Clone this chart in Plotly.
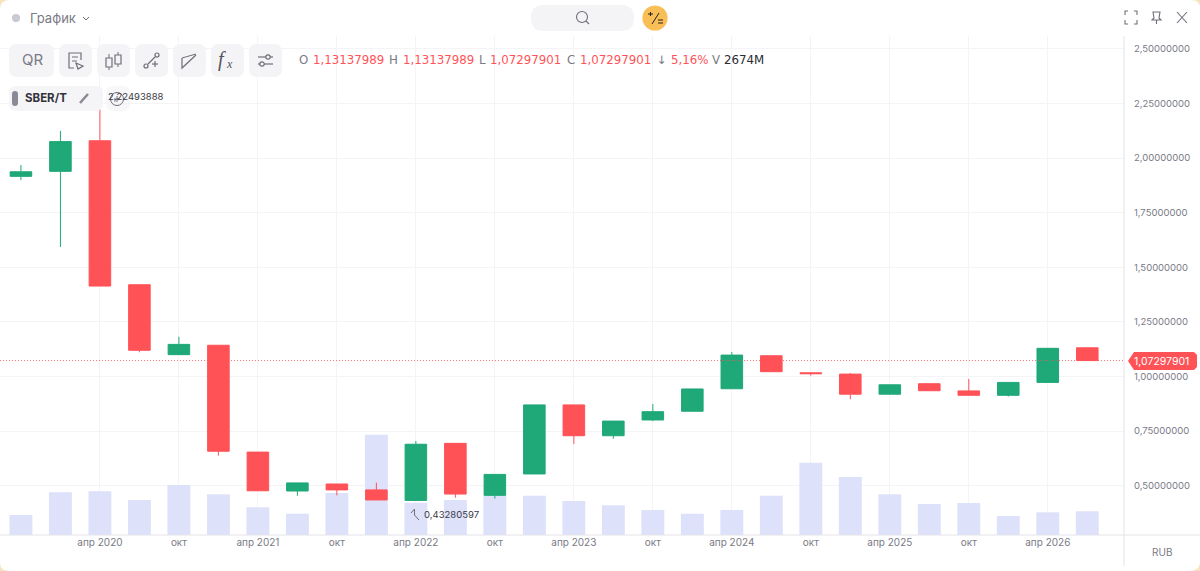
import plotly.graph_objects as go

# 1200x571 px, все элементы интерфейса задаем в пикселях экрана
W, H = 1200, 571
PLOT_L, PLOT_R, PLOT_T, PLOT_B = 0, 1124, 36, 535

months = ['2019-10', '2020-01', '2020-04', '2020-07', '2020-10', '2021-01', '2021-04',
          '2021-07', '2021-10', '2022-01', '2022-04', '2022-07', '2022-10', '2023-01',
          '2023-04', '2023-07', '2023-10', '2024-01', '2024-04', '2024-07', '2024-10',
          '2025-01', '2025-04', '2025-07', '2025-10', '2026-01', '2026-04', '2026-07']
opens = [1.916, 1.939, 2.079, 1.420, 1.100, 1.143, 0.654, 0.476, 0.508, 0.481, 0.43280597, 0.694, 0.456, 0.554,
         0.870, 0.729, 0.801, 0.841, 0.944, 1.095, 1.017, 1.011, 0.919, 0.967, 0.934, 0.914, 0.973, 1.13137989]
highs = [1.968, 2.124, 2.22493888, 1.420, 1.182, 1.143, 0.654, 0.513, 0.508, 0.514, 0.705, 0.694, 0.552, 0.870,
         0.870, 0.796, 0.874, 0.943, 1.112, 1.095, 1.017, 1.016, 0.962, 0.967, 0.989, 0.973, 1.129, 1.13137989]
lows = [1.899, 1.593, 1.414, 1.111, 1.100, 0.638, 0.477, 0.454, 0.456, 0.435, 0.43280597, 0.445, 0.441, 0.554,
        0.691, 0.715, 0.796, 0.841, 0.944, 1.022, 1.004, 0.896, 0.919, 0.935, 0.914, 0.908, 0.973, 1.07297901]
closes = [1.937, 2.075, 1.414, 1.120, 1.147, 0.658, 0.477, 0.513, 0.481, 0.435, 0.690, 0.462, 0.552, 0.870,
          0.729, 0.796, 0.839, 0.943, 1.098, 1.022, 1.013, 0.919, 0.962, 0.935, 0.914, 0.973, 1.129, 1.07297901]
volumes = [2256, 4817, 4929, 3948, 5640, 4591, 3125, 2403, 4738, 11314, 3643, 3948, 4399, 4433,
           3835, 3350, 2820, 2403, 2820, 4433, 8155, 6542, 4591, 3497, 3610, 2143, 2561, 2674]

tick_months = ['2020-04', '2020-10', '2021-04', '2021-10', '2022-04', '2022-10', '2023-04',
               '2023-10', '2024-04', '2024-10', '2025-04', '2025-10', '2026-04']
tick_labels = ['апр 2020', 'окт', 'апр 2021', 'окт', 'апр 2022', 'окт', 'апр 2023',
               'окт', 'апр 2024', 'окт', 'апр 2025', 'окт', 'апр 2026']
price_ticks = [0.5, 0.75, 1.0, 1.25, 1.5, 1.75, 2.0, 2.25, 2.5]

GREEN = '#1FA878'
RED = '#FF5257'
VOL = '#DDE1FA'
GRID = '#F4F4F7'
TEXT = '#7A7A85'
BTN = '#F4F4F7'
ICON = '#6E6E78'
CORNER = '#F6E3C0'
FONT = 'Inter'
WIDE_FONT = 'DejaVu Sans'


def X(p):
    return p / W


def Y(p):
    return 1 - p / H


def rrect(x0, y0, x1, y1, r):
    return (f'M{X(x0 + r)},{Y(y0)} L{X(x1 - r)},{Y(y0)} Q{X(x1)},{Y(y0)} {X(x1)},{Y(y0 + r)} '
            f'L{X(x1)},{Y(y1 - r)} Q{X(x1)},{Y(y1)} {X(x1 - r)},{Y(y1)} L{X(x0 + r)},{Y(y1)} '
            f'Q{X(x0)},{Y(y1)} {X(x0)},{Y(y1 - r)} L{X(x0)},{Y(y0 + r)} Q{X(x0)},{Y(y0)} {X(x0 + r)},{Y(y0)} Z')


def poly(pts, close=False):
    s = 'M' + ' L'.join(f'{X(a)},{Y(b)}' for a, b in pts)
    return s + (' Z' if close else '')


shapes = []
annotations = []


def fill(path, color, layer='above'):
    shapes.append(dict(type='path', xref='paper', yref='paper', path=path, fillcolor=color,
                       line=dict(width=0), layer=layer))


def stroke(pts, color=ICON, width=1.2, close=False):
    shapes.append(dict(type='path', xref='paper', yref='paper', path=poly(pts, close),
                       line=dict(color=color, width=width), layer='above'))


def circle(cx, cy, r, color=ICON, width=1.2, fillc=None):
    shapes.append(dict(type='circle', xref='paper', yref='paper', x0=X(cx - r), x1=X(cx + r),
                       y0=Y(cy + r), y1=Y(cy - r), line=dict(color=color, width=width),
                       fillcolor=fillc or 'rgba(0,0,0,0)', layer='above'))


def label(x, y, text, size=10, color=TEXT, anchor='left', family=FONT):
    annotations.append(dict(xref='paper', yref='paper', x=X(x), y=Y(y), text=text, showarrow=False,
                            xanchor=anchor, yanchor='middle', align=anchor, borderpad=0, borderwidth=0,
                            font=dict(size=size, color=color, family=family)))


def corner(x0, y0, cx, cy, x1, y1):
    fill(f'M{X(x0)},{Y(y0)} Q{X(cx)},{Y(cy)} {X(x1)},{Y(y1)} L{X(cx)},{Y(cy)} Z', CORNER)


fig = go.Figure()
fig.add_trace(go.Bar(x=months, y=volumes, marker=dict(color=VOL, line=dict(width=0)), yaxis='y', hoverinfo='skip'))
fig.add_trace(go.Candlestick(
    x=months, open=opens, high=highs, low=lows, close=closes, yaxis='y2', whiskerwidth=0,
    increasing=dict(line=dict(color=GREEN, width=1), fillcolor=GREEN),
    decreasing=dict(line=dict(color=RED, width=1), fillcolor=RED),
))

# линия последней цены
last_close = closes[-1]
shapes.append(dict(type='line', xref='paper', yref='y2', x0=X(PLOT_L), x1=X(PLOT_R), y0=last_close, y1=last_close,
                   line=dict(color=RED, width=1, dash='1px,2px'), layer='above', opacity=0.8))

# рамки шкал
stroke([(0, PLOT_B), (W, PLOT_B)], color='#E4E4EA', width=1)
stroke([(PLOT_R, PLOT_T), (PLOT_R, 566)], color='#E4E4EA', width=1)

# скругленные углы окна
corner(0, 9, 0, 0, 10, 0)
corner(1191, 0, 1200, 0, 1200, 8)
corner(1200, 562, 1200, 571, 1188, 571)
corner(10, 571, 0, 571, 0, 563)

# ярлык цены
fill(poly([(1128, 361), (1134, 352), (1194, 352), (1197, 355), (1197, 367), (1194, 370), (1134, 370)], True), RED)
label(1134, 361, '1,07297901', size=10.5, color='#FFFFFF')
label(1162, 552, 'RUB', size=10, anchor='center')

# верхняя панель
circle(16, 18, 3.5, color='#C9CAD2', fillc='#C9CAD2')
label(30, 18, 'График', size=13)
stroke([(83, 17), (86, 20), (89, 17)], width=1)
fill(rrect(531, 5, 634, 31, 13), BTN)
circle(582, 17, 5.5, width=1.1)
stroke([(586, 21), (589, 24)], width=1.1)
circle(655, 18, 12, color='#F9BE55', fillc='#F9BE55')
stroke([(652, 24), (659, 13)], color='#222222', width=1)
stroke([(648, 14), (653, 14)], color='#222222', width=1)
stroke([(650.5, 12), (650.5, 16)], color='#222222', width=1)
stroke([(658, 20), (663, 20)], color='#222222', width=1)
stroke([(658, 23), (663, 23)], color='#222222', width=1)

# правые кнопки
for a, b in [((1125, 15), (1125, 11)), ((1137, 15), (1137, 11)), ((1125, 20), (1125, 24)), ((1137, 20), (1137, 24))]:
    stroke([a, b, (b[0] + (3 if a[0] < 1130 else -3), b[1])], width=1.1)
stroke([(1153, 12), (1160, 12), (1159, 18), (1161, 20), (1152, 20), (1154, 18)], width=1.1, close=True)
stroke([(1156.5, 20), (1156.5, 24)], width=1.1)
stroke([(1177, 12), (1187, 23)], width=1.1)
stroke([(1187, 12), (1177, 23)], width=1.1)

# панель инструментов
fill(rrect(9, 44, 54, 77, 8), BTN)
label(32, 60, 'QR', size=15, anchor='center')
for left in [59, 97, 135, 173, 211, 249]:
    fill(rrect(left, 44, left + 33, 77, 8), BTN)
stroke([(81, 60), (81, 53), (69, 53), (69, 68), (74, 68)], width=1.2)
stroke([(72, 57), (78, 57)], width=1)
stroke([(72, 61), (77, 61)], width=1)
stroke([(76, 63), (83, 66), (78, 69)], width=1.2, close=True)
stroke([(109, 54), (109, 70)], width=1)
stroke([(118, 52), (118, 67)], width=1)
fill(rrect(106, 58, 112, 67, 2), BTN)
fill(rrect(115, 55, 121, 64, 2), BTN)
stroke([(106, 58), (112, 58), (112, 67), (106, 67)], close=True)
stroke([(115, 55), (121, 55), (121, 64), (115, 64)], close=True)
circle(146, 66, 2)
circle(157, 55, 2)
stroke([(148, 64), (155, 57)])
stroke([(155, 61), (155, 67)])
stroke([(152, 64), (158, 64)])
stroke([(182, 58), (182, 68), (196, 55)])
stroke([(182, 58), (196, 54)], width=1)
label(222, 59, '<i>f</i>', size=20, color='#55555F', anchor='center', family='Liberation Serif')
label(229, 64, '<i>x</i>', size=12, color='#55555F', anchor='center', family='Liberation Serif')
stroke([(258, 57), (273, 57)])
stroke([(258, 64), (273, 64)])
circle(268, 57, 2.2, fillc=BTN)
circle(262, 64, 2.2, fillc=BTN)

# OHLC
ohlc = [(299, 'O', TEXT), (313, '1,13137989', RED), (389, 'H', TEXT), (403, '1,13137989', RED), (479, 'L', TEXT),
        (490, '1,07297901', RED), (567, 'C', TEXT), (580, '1,07297901', RED), (657, '↓', TEXT), (671, '5,16%', RED),
        (712, 'V', TEXT), (724, '2674M', '#2B2B33')]
for px_x, txt, col in ohlc:
    label(px_x, 60, txt, size=11.8, color=col, family=WIDE_FONT)

# плашка тикера
fill(rrect(9, 86, 103, 111, 7), 'rgba(244,244,247,0.92)')
fill(rrect(106, 86, 130, 111, 7), 'rgba(244,244,247,0.75)')
fill(rrect(12, 91, 18, 106, 3), '#8A8A96')
label(25, 98, '<b>SBER/T</b>', size=11.5, color='#33333B')
stroke([(80, 103), (88, 94)], color='#8A8A92', width=2.5)
circle(117, 99, 6.5, width=1)
stroke([(114, 99), (120, 99)], width=1)
stroke([(117, 96), (117, 102)], width=1)

# подписи максимума и минимума
label(108, 96, '2,22493888', size=9.5, color='#3A3A44')
stroke([(411, 513), (414.5, 509), (414.5, 515), (419, 520)], width=1)
label(424, 514, '0,43280597', size=9.5, color='#3A3A44')

fig.update_layout(
    width=W, height=H, margin=dict(l=0, r=0, t=0, b=0), autosize=False,
    paper_bgcolor='white', plot_bgcolor='white', showlegend=False, separators=', ',
    bargap=0.42, boxgap=0.22, font=dict(family=FONT, size=10, color=TEXT),
    shapes=shapes, annotations=annotations,
    xaxis=dict(type='category', categoryorder='array', categoryarray=months,
               domain=[X(PLOT_L), X(PLOT_R)], range=[-0.53, 27.93], rangeslider=dict(visible=False),
               tickvals=tick_months, ticktext=tick_labels, showgrid=True, gridcolor=GRID, gridwidth=1,
               ticks='', ticklen=0, tickfont=dict(size=10, color=TEXT), zeroline=False, showline=False),
    yaxis=dict(domain=[1 - PLOT_B / H, 1 - PLOT_T / H], range=[0, 56287], visible=False, showgrid=False,
               fixedrange=True),
    yaxis2=dict(overlaying='y', side='right', anchor='x', range=[0.2746, 2.5584], tickvals=price_ticks,
                tickformat='.8f', showgrid=True, gridcolor=GRID, gridwidth=1, zeroline=False, showline=False,
                ticks='outside', ticklen=7, tickcolor='rgba(0,0,0,0)', tickfont=dict(size=9.5, color=TEXT)),
)

fig.write_html('out.html', config=dict(displayModeBar=False),
               post_script="document.body.style.margin='0';document.body.style.overflow='hidden';")
